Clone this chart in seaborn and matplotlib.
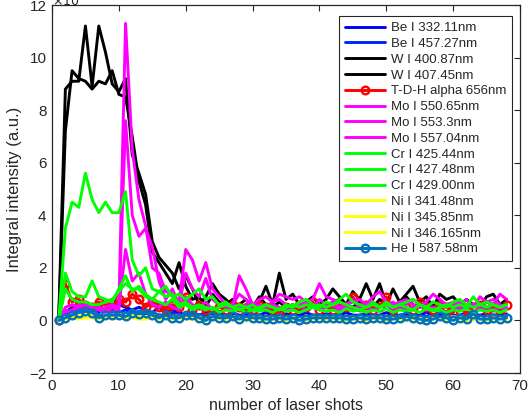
import numpy as np
import pandas as pd
import seaborn as sns
import matplotlib
matplotlib.use("Agg")
import matplotlib.pyplot as plt

shots = list(range(1, 69))

be_332 = [0, 0.3, 0.5, 0.6, 0.5, 0.4, 0.5, 0.7, 0.8, 0.6, 0.5, 0.4, 0.5, 0.4, 0.3, 0.5, 0.3, 0.4, 0.3, 0.2,
          0.3, 0.2, 0.3, 0.2, 0.25, 0.2, 0.3, 0.2, 0.2, 0.25, 0.2, 0.3, 0.2, 0.2, 0.25, 0.2, 0.2, 0.3, 0.2, 0.2,
          0.25, 0.2, 0.2, 0.3, 0.2, 0.2, 0.25, 0.2, 0.2, 0.3, 0.2, 0.2, 0.25, 0.2, 0.2, 0.3, 0.2, 0.2, 0.25, 0.2,
          0.2, 0.3, 0.2, 0.2, 0.25, 0.2, 0.2, 0.25]
be_457 = [0, 0.2, 0.4, 0.4, 0.3, 0.4, 0.3, 0.5, 0.4, 0.3, 0.4, 0.3, 0.3, 0.2, 0.3, 0.2, 0.2, 0.3, 0.2, 0.2,
          0.15, 0.2, 0.15, 0.2, 0.15, 0.15, 0.2, 0.15, 0.15, 0.2, 0.15, 0.15, 0.2, 0.15, 0.15, 0.2, 0.15, 0.15,
          0.2, 0.15, 0.15, 0.2, 0.15, 0.15, 0.2, 0.15, 0.15, 0.2, 0.15, 0.15, 0.2, 0.15, 0.15, 0.2, 0.15, 0.15,
          0.2, 0.15, 0.15, 0.2, 0.15, 0.15, 0.2, 0.15, 0.15, 0.2, 0.15, 0.15]
w_400 = [0, 8.8, 9.1, 9.1, 11.2, 8.9, 11.2, 10.2, 9.0, 8.7, 9.2, 6.3, 5.6, 4.8, 3.0, 2.4, 2.1, 1.8, 1.2, 1.7,
         1.2, 0.6, 0.9, 1.4, 1.0, 0.8, 0.5, 0.6, 0.8, 0.5, 0.7, 1.3, 0.6, 1.8, 0.8, 1.0, 0.6, 0.7, 0.9, 0.6,
         0.8, 1.2, 0.9, 0.6, 1.1, 0.8, 1.4, 0.8, 1.4, 0.6, 1.2, 0.7, 1.0, 1.3, 0.7, 0.9, 0.5, 1.0, 0.8, 0.9,
         0.6, 0.8, 0.6, 0.5, 0.9, 1.0, 0.6, 0.8]
w_407 = [0, 7.2, 9.5, 9.2, 9.1, 8.8, 9.1, 9.0, 9.5, 8.6, 8.5, 7.0, 5.3, 4.4, 2.6, 2.2, 1.8, 1.4, 2.2, 1.3,
         0.8, 0.9, 0.5, 1.0, 0.7, 0.6, 0.8, 0.4, 0.6, 0.5, 0.9, 0.6, 0.5, 0.7, 0.5, 0.6, 0.4, 0.7, 0.5, 0.6,
         0.5, 0.7, 0.8, 0.6, 0.5, 0.7, 0.6, 0.5, 0.8, 0.6, 0.5, 0.7, 0.9, 0.6, 0.5, 0.7, 0.6, 0.8, 0.5, 0.6,
         0.7, 0.5, 0.6, 0.5, 0.7, 0.6, 0.5, 0.6]
tdh_656 = [0, 1.4, 0.7, 0.8, 0.6, 0.5, 0.7, 0.6, 0.5, 0.8, 0.7, 1.0, 0.8, 0.5, 0.7, 0.5, 0.4, 0.6, 0.5, 0.9,
           0.4, 0.6, 0.4, 0.3, 0.5, 0.4, 0.6, 0.5, 0.3, 0.4, 0.6, 0.5, 0.4, 0.3, 0.5, 0.4, 0.6, 0.5, 0.7, 0.4,
           0.5, 0.4, 0.6, 0.5, 0.9, 0.5, 0.6, 0.4, 0.5, 0.9, 0.4, 0.6, 0.5, 0.4, 0.7, 0.5, 0.4, 0.6, 0.5, 0.3,
           0.6, 0.2, 0.5, 0.6, 0.4, 0.5, 0.3, 0.6]
mo_550 = [0, 0.5, 0.6, 0.5, 0.6, 0.5, 0.4, 0.5, 0.6, 0.5, 11.3, 6.5, 4.6, 3.6, 2.0, 1.8, 1.1, 1.0, 0.7, 2.7,
          2.3, 1.5, 2.2, 1.2, 0.9, 0.6, 0.5, 1.7, 1.2, 0.6, 0.8, 0.9, 0.7, 1.0, 0.9, 0.8, 0.9, 0.7, 0.8, 1.4,
          0.9, 0.8, 0.7, 0.6, 0.7, 0.8, 0.6, 0.9, 1.1, 0.7, 0.6, 0.7, 0.8, 0.6, 0.5, 0.7, 1.0, 0.8, 0.6, 0.7,
          0.5, 0.8, 0.5, 0.9, 0.7, 0.6, 1.0, 0.8]
mo_553 = [0, 0.3, 0.4, 0.5, 0.4, 0.5, 0.4, 0.3, 0.5, 0.4, 7.6, 4.0, 3.2, 3.5, 2.8, 1.5, 0.8, 1.2, 0.6, 1.8,
          1.2, 0.9, 1.6, 0.8, 0.6, 0.5, 0.6, 1.0, 0.8, 0.5, 0.6, 0.5, 0.7, 0.8, 0.6, 0.5, 0.6, 0.7, 0.5, 0.8,
          0.6, 0.7, 0.5, 0.6, 0.8, 0.5, 0.6, 0.7, 0.5, 0.6, 0.7, 0.5, 0.6, 0.8, 0.6, 0.5, 0.7, 0.6, 0.5, 0.6,
          0.7, 0.5, 0.6, 0.5, 0.7, 0.8, 0.6, 0.5]
mo_557 = [0, 0.4, 0.3, 0.6, 0.5, 0.4, 0.5, 0.4, 0.3, 0.5, 2.7, 1.5, 1.8, 1.0, 0.6, 0.5, 0.7, 0.5, 0.4, 0.9,
          0.6, 0.5, 0.7, 0.4, 0.5, 0.6, 0.4, 0.5, 0.6, 0.4, 0.5, 0.4, 0.6, 0.5, 0.4, 0.5, 0.6, 0.4, 0.5, 0.4,
          0.5, 0.6, 0.4, 0.5, 0.4, 0.6, 0.5, 0.4, 0.5, 0.6, 0.4, 0.5, 0.4, 0.5, 0.6, 0.4, 0.5, 0.4, 0.6, 0.5,
          0.4, 0.5, 0.6, 0.4, 0.5, 0.4, 0.5, 0.4]
cr_425 = [0, 3.5, 4.5, 4.3, 5.6, 4.6, 4.1, 4.5, 4.1, 4.1, 4.9, 2.3, 1.7, 2.0, 1.2, 1.1, 1.3, 0.9, 1.0, 0.8,
          1.0, 1.2, 0.8, 0.9, 0.6, 0.7, 0.5, 0.6, 0.5, 0.6, 0.4, 0.6, 0.5, 0.4, 0.6, 0.5, 0.7, 0.8, 0.6, 0.5,
          0.7, 0.6, 0.8, 1.0, 0.7, 0.6, 0.5, 0.7, 0.5, 0.6, 0.5, 0.6, 0.5, 0.4, 0.6, 0.5, 0.7, 0.6, 0.5, 0.7,
          0.8, 0.6, 0.5, 0.6, 0.7, 0.6, 0.5, 0.6]
cr_427 = [0, 1.8, 1.1, 0.9, 0.9, 1.5, 0.9, 0.8, 0.7, 1.2, 1.7, 1.1, 1.3, 1.0, 0.8, 1.1, 0.9, 1.0, 0.6, 0.7,
          0.5, 0.6, 0.5, 0.4, 0.5, 0.6, 0.5, 0.4, 0.5, 0.4, 0.5, 0.6, 0.5, 0.4, 0.5, 0.6, 0.5, 0.6, 0.5, 0.6,
          0.5, 0.6, 0.7, 0.6, 0.5, 0.4, 0.5, 0.6, 0.5, 0.7, 0.5, 0.6, 0.7, 0.8, 0.6, 0.5, 0.4, 0.5, 0.6, 0.5,
          0.6, 0.5, 0.9, 0.6, 0.5, 0.6, 0.5, 0.6]
cr_429 = [0, 1.2, 0.8, 0.7, 0.7, 0.6, 0.6, 0.7, 0.8, 1.1, 1.4, 1.2, 1.2, 0.9, 0.8, 0.7, 0.6, 0.8, 0.5, 0.6,
          0.4, 0.5, 0.4, 0.5, 0.3, 0.4, 0.35, 0.45, 0.3, 0.4, 0.35, 0.4, 0.3, 0.45, 0.35, 0.4, 0.3, 0.4, 0.5, 0.4,
          0.35, 0.4, 0.3, 0.45, 0.35, 0.4, 0.3, 0.4, 0.35, 0.45, 0.3, 0.4, 0.35, 0.4, 0.3, 0.45, 0.35, 0.4, 0.3,
          0.4, 0.35, 0.45, 0.3, 0.4, 0.35, 0.4, 0.3, 0.4]
ni_341 = [0, 0.1, 0.15, 0.1, 0.2, 0.15, 0.1, 0.15, 0.1, 0.15, 0.1, 0.15, 0.1, 0.1, 0.15, 0.1, 0.1, 0.1, 0.15,
          0.1, 0.1, 0.1, 0.05, 0.1, 0.1, 0.05, 0.1, 0.1, 0.05, 0.1, 0.1, 0.05, 0.1, 0.1, 0.05, 0.1, 0.1, 0.05,
          0.1, 0.1, 0.05, 0.1, 0.1, 0.05, 0.1, 0.1, 0.05, 0.1, 0.1, 0.05, 0.1, 0.1, 0.05, 0.1, 0.1, 0.05, 0.1,
          0.1, 0.05, 0.1, 0.1, 0.05, 0.1, 0.1, 0.05, 0.1, 0.1, 0.05]
ni_345 = [0, 0.05, 0.1, 0.05, 0.1, 0.1, 0.05, 0.1, 0.05, 0.1, 0.05, 0.1, 0.05, 0.05, 0.1, 0.05, 0.05, 0.05,
          0.1, 0.05, 0.05, 0.05, 0.0, 0.05, 0.05, 0.0, 0.05, 0.05, 0.0, 0.05, 0.05, 0.0, 0.05, 0.05, 0.0, 0.05,
          0.05, 0.0, 0.05, 0.05, 0.0, 0.05, 0.05, 0.0, 0.05, 0.05, 0.0, 0.05, 0.05, 0.0, 0.05, 0.05, 0.0, 0.05,
          0.05, 0.0, 0.05, 0.05, 0.0, 0.05, 0.05, 0.0, 0.05, 0.05, 0.0, 0.05, 0.05, 0.0]
ni_346 = [0, 0.15, 0.2, 0.15, 0.25, 0.2, 0.15, 0.2, 0.15, 0.2, 0.15, 0.2, 0.15, 0.15, 0.2, 0.15, 0.15, 0.15,
          0.2, 0.15, 0.15, 0.1, 0.1, 0.15, 0.1, 0.1, 0.15, 0.1, 0.1, 0.15, 0.1, 0.1, 0.15, 0.1, 0.1, 0.15, 0.1,
          0.1, 0.15, 0.1, 0.1, 0.15, 0.1, 0.1, 0.15, 0.1, 0.1, 0.15, 0.1, 0.1, 0.15, 0.1, 0.1, 0.15, 0.1, 0.1,
          0.15, 0.1, 0.1, 0.15, 0.1, 0.1, 0.15, 0.1, 0.1, 0.15, 0.1, 0.1]
he_587 = [0, 0.1, 0.2, 0.3, 0.35, 0.3, 0.1, 0.2, 0.2, 0.2, 0.15, 0.3, 0.25, 0.3, 0.2, 0.1, 0.2, 0.1, 0.1, 0.2,
          0.2, 0.1, 0.0, 0.15, 0.1, 0.1, 0.15, 0.05, 0.15, 0.1, 0.1, 0.05, 0.05, 0.1, 0.05, 0.1, 0.0, 0.05,
          0.1, 0.1, 0.1, 0.1, 0.1, 0.05, 0.05, 0.1, 0.05, 0.1, 0.1, 0.05, 0.05, 0.1, 0.15, 0.1, 0.05, 0.0,
          0.05, 0.15, 0.1, 0.0, 0.1, 0.05, 0.25, 0.05, 0.05, 0.1, 0.05, 0.1]

labels = ["Be I 332.11nm", "Be I 457.27nm", "W I 400.87nm", "W I 407.45nm", "T-D-H alpha 656nm",
          "Mo I 550.65nm", "Mo I 553.3nm", "Mo I 557.04nm", "Cr I 425.44nm", "Cr I 427.48nm",
          "Cr I 429.00nm", "Ni I 341.48nm", "Ni I 345.85nm", "Ni I 346.165nm", "He I 587.58nm"]
series = [be_332, be_457, w_400, w_407, tdh_656, mo_550, mo_553, mo_557, cr_425, cr_427, cr_429,
          ni_341, ni_345, ni_346, he_587]
colors = ["#0000FF", "#0022FF", "#000000", "#000000", "#FF0000", "#FF00FF", "#FF00FF", "#FF00FF",
          "#00FF00", "#00FF00", "#00FF00", "#FFFF00", "#FFFF00", "#FFFF00", "#0072BD"]
markers = [None, None, None, None, "o", None, None, None, None, None, None, None, None, None, "o"]

sns.set_style("white")
plt.rcParams['font.family'] = ['Liberation Sans', 'DejaVu Sans']

fig = plt.figure(figsize=(5.30, 4.19), dpi=100)
ax = fig.add_axes([52/530, 1 - 373/419, 468/530, 368/419])

for lab, vals, col, mk in zip(labels, series, colors, markers):
    df = pd.DataFrame({"shot": shots, "val": vals})
    kw = dict(color=col, linewidth=2.1, label=lab)
    if mk:
        kw.update(marker="o", markersize=5.5, markerfacecolor="none", markeredgecolor=col,
                  markeredgewidth=1.7)
    sns.lineplot(data=df, x="shot", y="val", ax=ax, sort=False, **kw)

ax.set_xlim(0, 70)
ax.set_ylim(-2, 12)
ax.set_xticks(range(0, 71, 10))
ax.set_yticks(range(-2, 13, 2))
ax.set_xlabel("number of laser shots", fontsize=11.5, color="#262626", labelpad=4)
ax.set_ylabel("Integral intensity (a.u.)", fontsize=12, color="#262626", labelpad=5)
ax.tick_params(direction="in", top=True, right=True, length=4, width=0.8, colors="#262626",
               labelsize=11, pad=4)
for s in ax.spines.values():
    s.set_color("#262626")
    s.set_linewidth(0.9)

leg = ax.legend(loc="upper right", bbox_to_anchor=(0.983, 0.970), borderaxespad=0,
                fontsize=9.5, handlelength=3.1, labelspacing=0.27, handletextpad=0.4,
                borderpad=0.45, fancybox=False, framealpha=1, edgecolor="#262626")
leg.get_frame().set_linewidth(0.8)

fig.text(52/530, 0.998, r"$\times10^{4}$", fontsize=9, color="#262626", va="center", ha="left")

fig.savefig("out.png", dpi=100)
